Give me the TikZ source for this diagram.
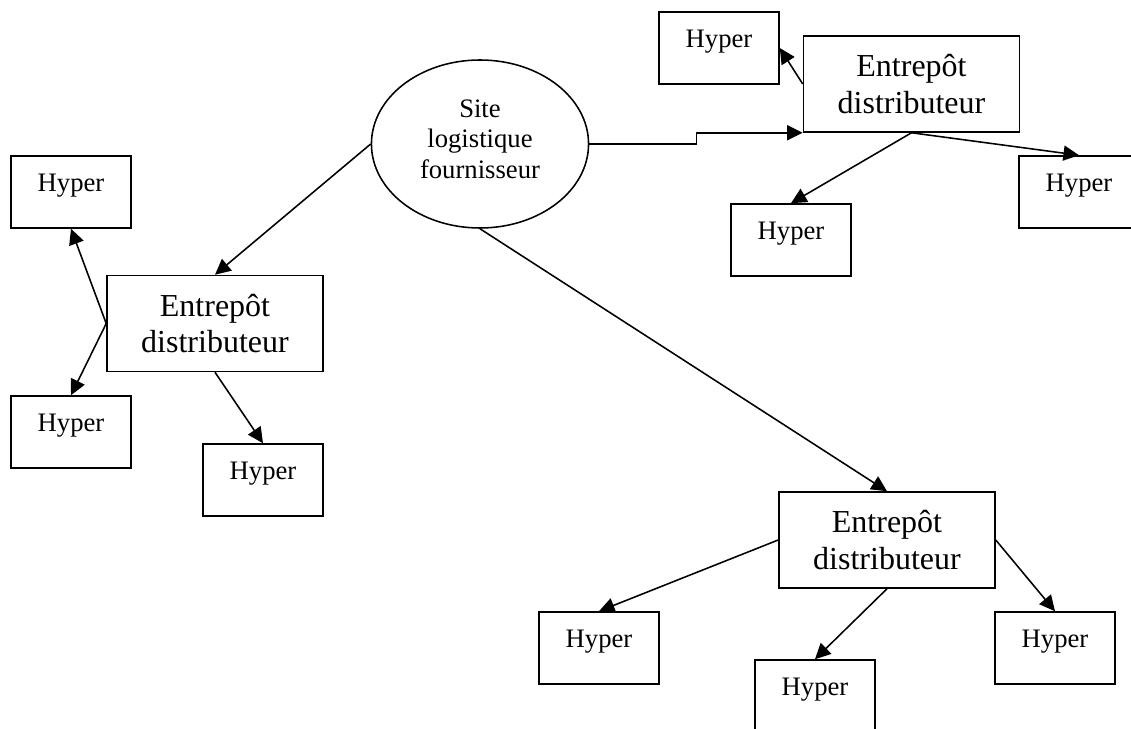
\documentclass[tikz,border=0pt]{standalone}
\usepackage{fontspec}
\setmainfont{Liberation Serif}
\usetikzlibrary{shapes.geometric,arrows.meta}
\begin{document}
\begin{tikzpicture}[x=0.45pt, y=-0.45pt,
  every node/.style={draw=black,line width=0.7pt,inner sep=0pt},
  hyper/.style={rectangle,minimum width=54pt,minimum height=32.4pt,text height=16.2pt,text depth=16.2pt,font=\fontsize{12pt}{14pt}\selectfont},
  entrepot/.style={rectangle,minimum width=97.2pt,minimum height=43.2pt,align=center,font=\fontsize{14.4pt}{16.6pt}\selectfont},
  site/.style={ellipse,minimum width=97.7pt,minimum height=75.6pt,align=center,font=\fontsize{12pt}{13.8pt}\selectfont},
  fleche/.style={line width=0.7pt,-{Triangle[length=7pt,width=6.8pt]}}]
  \useasboundingbox (0,0) rectangle (1131,729);
  \node[site] (site) at (480,144) {Site\\logistique\\fournisseur\\[-9.3pt]};
  \node[entrepot] (el) at (215,323.5) {Entrepôt\\distributeur};
  \node[entrepot] (et) at (911.5,84) {Entrepôt\\distributeur};
  \node[entrepot] (eb) at (887,540) {Entrepôt\\distributeur};
  \node[hyper] (hl1) at (71,192) {Hyper};
  \node[hyper] (hl2) at (71,432) {Hyper};
  \node[hyper] (hl3) at (263,480) {Hyper};
  \node[hyper] (ht1) at (719,48) {Hyper};
  \node[hyper] (ht2) at (791,240) {Hyper};
  \node[hyper] (ht3) at (1079,192) {Hyper};
  \node[hyper] (hb1) at (599,648) {Hyper};
  \node[hyper] (hb2) at (815,696) {Hyper};
  \node[hyper] (hb3) at (1055,648) {Hyper};
  \draw[fleche] (site.west) -- (el.north);
  \draw[fleche] (el.west) -- (hl1.south);
  \draw[fleche] (el.west) -- (hl2.north);
  \draw[fleche] (el.south) -- (hl3.north);
  \draw[fleche] (site.east) -- ++(107,0) |- (et.south west);
  \draw[fleche] (et.west) -- (ht1.east);
  \draw[fleche] (et.south) -- (ht2.north);
  \draw[fleche] (et.south) -- (ht3.north);
  \draw[fleche] (site.south) -- (eb.north);
  \draw[fleche] (eb.west) -- (hb1.north);
  \draw[fleche] (eb.south) -- (hb2.north);
  \draw[fleche] (eb.east) -- (hb3.north);
\end{tikzpicture}
\end{document}
